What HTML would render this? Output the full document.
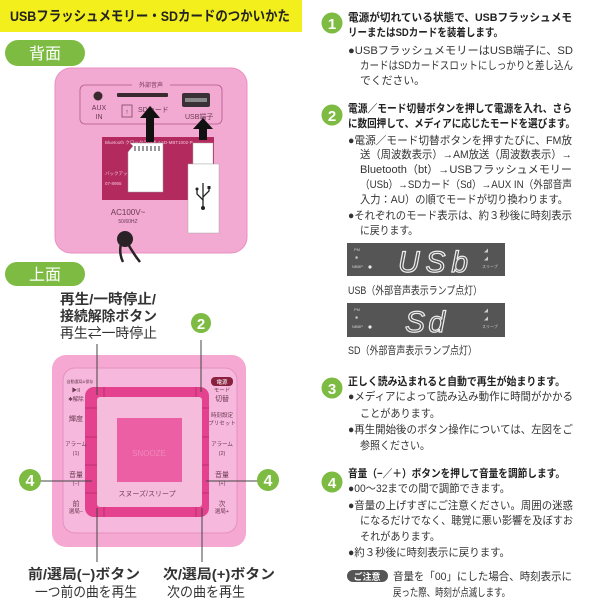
<!DOCTYPE html>
<html><head><meta charset="utf-8"><style>
html,body{margin:0;padding:0;background:#fff;width:600px;height:600px;overflow:hidden}
svg{display:block}
text{font-family:"Liberation Sans","Noto Sans CJK JP",sans-serif}
.b{font-weight:bold}
.t{font-size:11px;fill:#333}
.h{font-size:11px;fill:#222;font-weight:bold}
</style></head><body>
<svg width="600" height="600" viewBox="0 0 600 600" xmlns="http://www.w3.org/2000/svg">
<!-- title banner -->
<rect x="0" y="0" width="302" height="32" fill="#f3ef1c"/>
<text x="10" y="21" font-size="14" class="b" fill="#222" textLength="280" lengthAdjust="spacingAndGlyphs">USBフラッシュメモリー・SDカードのつかいかた</text>

<!-- 背面 pill -->
<rect x="5" y="40" width="80" height="26" rx="13" fill="#7dbb42"/>
<text x="45" y="59" font-size="16" fill="#fff" text-anchor="middle">背面</text>

<!-- back device -->
<rect x="55" y="68" width="192" height="185" rx="16" fill="#f2a9d2"/>
<rect x="55" y="68" width="192" height="185" rx="16" fill="none" stroke="#e890c0" stroke-width="1"/>
<rect x="80" y="85" width="142" height="39" rx="5" fill="none" stroke="#b05a8a" stroke-width="0.8"/>
<rect x="132" y="80" width="38" height="8" fill="#f2a9d2"/>
<text x="151" y="87" font-size="6" fill="#7a3a5a" text-anchor="middle">外部音声</text>
<circle cx="98" cy="96" r="4.5" fill="#3a2a30"/>
<text x="99" y="110" font-size="7" fill="#6a3a50" text-anchor="middle">AUX</text>
<text x="99" y="119" font-size="7" fill="#6a3a50" text-anchor="middle">IN</text>
<rect x="117" y="93" width="51" height="4" rx="1" fill="#3a2a30"/>
<rect x="122" y="105" width="10" height="12" fill="none" stroke="#6a3a50" stroke-width="0.7"/>
<text x="127" y="114" font-size="7" fill="#6a3a50" text-anchor="middle">↑</text>
<text x="138" y="112" font-size="7" fill="#6a3a50">SDカード</text>
<rect x="182" y="93" width="28" height="14" rx="2" fill="#3a3035"/>
<rect x="185" y="98" width="22" height="4" fill="#888"/>
<text x="185" y="119" font-size="7" fill="#6a3a50">USB端子</text>
<rect x="102" y="137" width="112" height="63" fill="#b22a5e"/>
<text x="105" y="144" font-size="4.5" fill="#f3c0d6">Bluetooth クロックラジオ   AAD-MBT1002-P</text>
<text x="105" y="175" font-size="4.5" fill="#f3c0d6">バックアップ</text>
<text x="105" y="185" font-size="4.5" fill="#f3c0d6">07-8965</text>
<!-- SD card -->
<path d="M130 143 H163 V192 H128 V152 L133 146 Z" fill="#fff" stroke="#999" stroke-width="0.5"/>
<g fill="#999"><rect x="134" y="146" width="2" height="5"/><rect x="138" y="146" width="2" height="5"/><rect x="142" y="146" width="2" height="5"/><rect x="146" y="146" width="2" height="5"/><rect x="150" y="146" width="2" height="5"/><rect x="154" y="146" width="2" height="5"/><rect x="158" y="146" width="2" height="5"/></g>
<!-- SD arrow -->
<polygon points="150,106 140,118 146,118 146,142 154,142 154,118 160,118" fill="#111"/>
<!-- USB stick -->
<rect x="193" y="143" width="20" height="21" fill="#fff" stroke="#aaa" stroke-width="0.5"/>
<rect x="188" y="164" width="31" height="69" fill="#fff" stroke="#aaa" stroke-width="0.5"/>
<g stroke="#222" stroke-width="1.3" fill="none"><line x1="203" y1="183" x2="203" y2="208"/><polyline points="203,200 197,194 197,190"/><polyline points="203,197 209,191 209,188"/></g>
<circle cx="203" cy="208" r="2" fill="#222"/><circle cx="197" cy="189" r="1.5" fill="#222"/><rect x="207.5" y="186" width="3" height="3" fill="#222"/>
<polygon points="203,118 193,129 199,129 199,140 207,140 207,129 213,129" fill="#111"/>
<text x="128" y="215" font-size="8" fill="#6a3a50" text-anchor="middle">AC100V~</text>
<text x="128" y="223" font-size="5" fill="#6a3a50" text-anchor="middle">50/60HZ</text>
<circle cx="125" cy="239" r="8" fill="#2a2226"/>
<path d="M122 240 Q118 252 123 262 M126 240 Q132 252 140 262" stroke="#2a2226" stroke-width="2.5" fill="none"/>

<!-- 上面 pill -->
<rect x="5" y="262" width="80" height="24" rx="12" fill="#7dbb42"/>
<text x="45" y="280" font-size="16" fill="#fff" text-anchor="middle">上面</text>

<text x="60" y="304" font-size="14" class="b" fill="#333" textLength="96" lengthAdjust="spacingAndGlyphs">再生/一時停止/</text>
<text x="60" y="321" font-size="14" class="b" fill="#333" textLength="97" lengthAdjust="spacingAndGlyphs">接続解除ボタン</text>
<text x="60" y="338" font-size="14" fill="#333" textLength="97" lengthAdjust="spacingAndGlyphs">再生⇄一時停止</text>
<circle cx="201" cy="323" r="10" fill="#7dbb42"/>
<text x="201" y="329" font-size="15" class="b" fill="#fff" text-anchor="middle">2</text>

<!-- top device -->
<rect x="52" y="355" width="194" height="192" rx="14" fill="#f4a8d2"/>
<rect x="63" y="368" width="174" height="165" rx="12" fill="#f6b8dc" stroke="#e890c0" stroke-width="1"/>
<rect x="85" y="387" width="124" height="130" rx="9" fill="#e4418f"/>
<g stroke="#b82a6a" stroke-width="0.8">
<line x1="85" y1="408" x2="97" y2="408"/><line x1="85" y1="437" x2="97" y2="437"/><line x1="85" y1="465" x2="97" y2="465"/><line x1="85" y1="493" x2="97" y2="493"/>
<line x1="197" y1="408" x2="209" y2="408"/><line x1="197" y1="437" x2="209" y2="437"/><line x1="197" y1="465" x2="209" y2="465"/><line x1="197" y1="493" x2="209" y2="493"/>
<line x1="104" y1="387" x2="104" y2="397"/><line x1="196" y1="387" x2="196" y2="397"/><line x1="104" y1="507" x2="104" y2="517"/><line x1="196" y1="507" x2="196" y2="517"/>
</g>
<rect x="97" y="397" width="105" height="110" rx="3" fill="#f6bcdc"/>
<rect x="117" y="418" width="65" height="64" fill="#ec5fa4"/>
<text x="149" y="456" font-size="8" fill="#f088bb" text-anchor="middle">SNOOZE</text>
<text x="147" y="496" font-size="7" fill="#7a3a5a" text-anchor="middle">スヌーズ/スリープ</text>
<g font-size="5.5" fill="#6a3a50" text-anchor="middle">
<text x="80" y="383" font-size="4">自動選局&amp;保存</text>
<text x="76" y="392">▶II</text><text x="76" y="401">✱解除</text>
<text x="76" y="421" font-size="7">輝度</text>
<text x="76" y="446">アラーム</text><text x="76" y="455">(1)</text>
<text x="76" y="477" font-size="7">音量</text><text x="76" y="485">(−)</text>
<text x="76" y="506" font-size="7">前</text><text x="76" y="513">選局−</text>
<rect x="211" y="377" width="22" height="9" rx="4" fill="#8a2040"/>
<text x="222" y="384" fill="#fff">電源</text>
<text x="222" y="392">モード</text><text x="222" y="401" font-size="7">切替</text>
<text x="222" y="417">時刻設定</text><text x="222" y="425">プリセット</text>
<text x="222" y="446">アラーム</text><text x="222" y="455">(2)</text>
<text x="222" y="477" font-size="7">音量</text><text x="222" y="485">(+)</text>
<text x="222" y="506" font-size="7">次</text><text x="222" y="513">選局+</text>
</g>
<!-- leader lines -->
<g stroke="#444" stroke-width="1">
<line x1="97" y1="344" x2="97" y2="395"/><line x1="201" y1="340" x2="201" y2="392"/>
<line x1="40" y1="481" x2="92" y2="481"/><line x1="206" y1="481" x2="258" y2="481"/>
<line x1="97" y1="508" x2="97" y2="562"/><line x1="202" y1="508" x2="202" y2="562"/>
</g>
<circle cx="30" cy="480" r="11" fill="#7dbb42"/><text x="30" y="486" font-size="16" class="b" fill="#fff" text-anchor="middle">4</text>
<circle cx="268" cy="480" r="11" fill="#7dbb42"/><text x="268" y="486" font-size="16" class="b" fill="#fff" text-anchor="middle">4</text>

<text x="28" y="579" font-size="14" class="b" fill="#333" textLength="112" lengthAdjust="spacingAndGlyphs">前/選局(−)ボタン</text>
<text x="35" y="597" font-size="14" fill="#333" textLength="102" lengthAdjust="spacingAndGlyphs">一つ前の曲を再生</text>
<text x="163" y="579" font-size="14" class="b" fill="#333" textLength="112" lengthAdjust="spacingAndGlyphs">次/選局(+)ボタン</text>
<text x="167" y="597" font-size="14" fill="#333" textLength="78" lengthAdjust="spacingAndGlyphs">次の曲を再生</text>

<!-- right column -->
<g fill="#7dbb42"><circle cx="332" cy="23" r="10.5"/><circle cx="332" cy="115" r="10.5"/><circle cx="332" cy="388" r="10.5"/><circle cx="332" cy="482" r="10.5"/></g>
<g font-size="15" class="b" fill="#fff" text-anchor="middle"><text x="332" y="29">1</text><text x="332" y="121">2</text><text x="332" y="394">3</text><text x="332" y="488">4</text></g>

<g lengthAdjust="spacingAndGlyphs">
<text class="h" x="348" y="21" textLength="224" lengthAdjust="spacingAndGlyphs">電源が切れている状態で、USBフラッシュメモ</text>
<text class="h" x="348" y="36" textLength="155" lengthAdjust="spacingAndGlyphs">リーまたはSDカードを装着します。</text>
<text class="t" x="348" y="54" textLength="225" lengthAdjust="spacingAndGlyphs">●USBフラッシュメモリーはUSB端子に、SD</text>
<text class="t" x="360" y="69" textLength="213" lengthAdjust="spacingAndGlyphs">カードはSDカードスロットにしっかりと差し込ん</text>
<text class="t" x="360" y="84" textLength="65" lengthAdjust="spacingAndGlyphs">でください。</text>

<text class="h" x="348" y="112" textLength="224" lengthAdjust="spacingAndGlyphs">電源／モード切替ボタンを押して電源を入れ、さら</text>
<text class="h" x="348" y="127" textLength="227" lengthAdjust="spacingAndGlyphs">に数回押して、メディアに応じたモードを選びます。</text>
<text class="t" x="348" y="144" textLength="224" lengthAdjust="spacingAndGlyphs">●電源／モード切替ボタンを押すたびに、FM放</text>
<text class="t" x="360" y="158" textLength="212" lengthAdjust="spacingAndGlyphs">送（周波数表示）→AM放送（周波数表示）→</text>
<text class="t" x="360" y="173" textLength="212" lengthAdjust="spacingAndGlyphs">Bluetooth（bt）→USBフラッシュメモリー</text>
<text class="t" x="360" y="188" textLength="212" lengthAdjust="spacingAndGlyphs">（USb）→SDカード（Sd）→AUX IN（外部音声</text>
<text class="t" x="360" y="203" textLength="208" lengthAdjust="spacingAndGlyphs">入力：AU）の順でモードが切り換わります。</text>
<text class="t" x="348" y="219" textLength="224" lengthAdjust="spacingAndGlyphs">●それぞれのモード表示は、約３秒後に時刻表示</text>
<text class="t" x="360" y="234" textLength="58" lengthAdjust="spacingAndGlyphs">に戻ります。</text>
</g>

<!-- displays -->
<rect x="347" y="243" width="158" height="33" fill="#555"/>
<rect x="347" y="303" width="158" height="34" fill="#555"/>
<g font-size="4" fill="#ccc">
<text x="354" y="251">PM</text><text x="355" y="259">✱</text><text x="352" y="268">NBBP</text>
<text x="354" y="311">PM</text><text x="355" y="319">✱</text><text x="352" y="328">NBBP</text>
<text x="484" y="252">◢</text><text x="484" y="260">◢</text><text x="482" y="268">スリープ</text>
<text x="484" y="312">◢</text><text x="484" y="320">◢</text><text x="482" y="328">スリープ</text>
</g>
<circle cx="370" cy="267" r="1.6" fill="#eee"/><circle cx="370" cy="327" r="1.6" fill="#eee"/>
<text x="398" y="272" font-size="30" fill="none" stroke="#eee" stroke-width="1.2" font-style="italic" textLength="70" lengthAdjust="spacing">USb</text>
<text x="405" y="332" font-size="30" fill="none" stroke="#eee" stroke-width="1.2" font-style="italic" textLength="40" lengthAdjust="spacing">Sd</text>
<text class="t" x="348" y="294" textLength="134" lengthAdjust="spacingAndGlyphs">USB（外部音声表示ランプ点灯）</text>
<text class="t" x="348" y="354" textLength="129" lengthAdjust="spacingAndGlyphs">SD（外部音声表示ランプ点灯）</text>

<text class="h" x="348" y="385" textLength="217" lengthAdjust="spacingAndGlyphs">正しく読み込まれると自動で再生が始まります。</text>
<text class="t" x="348" y="400" textLength="225" lengthAdjust="spacingAndGlyphs">●メディアによって読み込み動作に時間がかかる</text>
<text class="t" x="360" y="417" textLength="80" lengthAdjust="spacingAndGlyphs">ことがあります。</text>
<text class="t" x="348" y="433" textLength="225" lengthAdjust="spacingAndGlyphs">●再生開始後のボタン操作については、左図をご</text>
<text class="t" x="360" y="449" textLength="70" lengthAdjust="spacingAndGlyphs">参照ください。</text>

<text class="h" x="348" y="477" textLength="217" lengthAdjust="spacingAndGlyphs">音量（−／＋）ボタンを押して音量を調節します。</text>
<text class="t" x="348" y="492" textLength="162" lengthAdjust="spacingAndGlyphs">●00〜32までの間で調節できます。</text>
<text class="t" x="348" y="509" textLength="225" lengthAdjust="spacingAndGlyphs">●音量の上げすぎにご注意ください。周囲の迷惑</text>
<text class="t" x="360" y="524" textLength="213" lengthAdjust="spacingAndGlyphs">になるだけでなく、聴覚に悪い影響を及ぼすお</text>
<text class="t" x="360" y="540" textLength="80" lengthAdjust="spacingAndGlyphs">それがあります。</text>
<text class="t" x="348" y="556" textLength="162" lengthAdjust="spacingAndGlyphs">●約３秒後に時刻表示に戻ります。</text>
<rect x="347" y="570" width="41" height="12" rx="6" fill="#555"/>
<text x="367" y="580" font-size="9" class="b" fill="#fff" text-anchor="middle">ご注意</text>
<text class="t" x="393" y="580" textLength="179" lengthAdjust="spacingAndGlyphs">音量を「00」にした場合、時刻表示に</text>
<text class="t" x="393" y="596" textLength="117" lengthAdjust="spacingAndGlyphs">戻った際、時刻が点滅します。</text>
</svg>
</body></html>
